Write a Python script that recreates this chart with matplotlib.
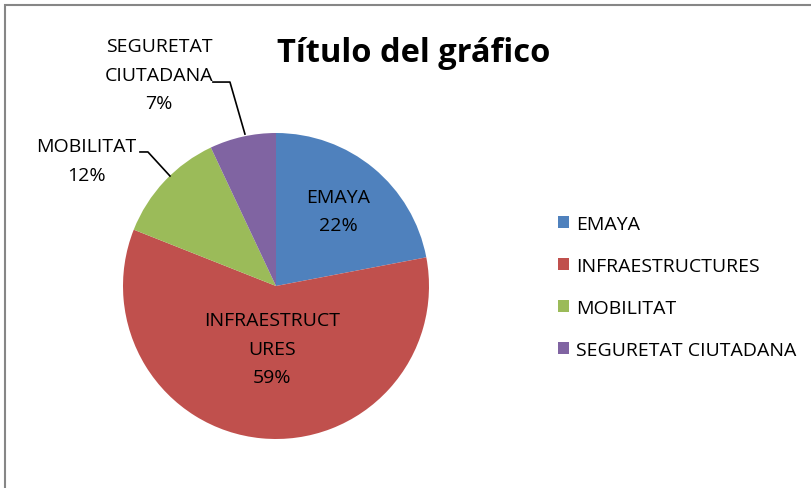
import matplotlib
matplotlib.use('Agg')
import matplotlib.pyplot as plt
from matplotlib.patches import Rectangle

# Data
categories = ['EMAYA', 'INFRAESTRUCTURES', 'MOBILITAT', 'SEGURETAT CIUTADANA']
values = [22, 59, 12, 7]
label_texts = ['EMAYA\n22%', 'INFRAESTRUCT\nURES\n59%', 'MOBILITAT\n12%', 'SEGURETAT\nCIUTADANA\n7%']
colors = ['#4F81BD', '#C0504D', '#9BBB59', '#8064A2']

plt.rcParams['font.family'] = ['Open Sans', 'DejaVu Sans']

W, H = 811, 489
fig = plt.figure(figsize=(W / 100, H / 100), dpi=100)

# chart frame (top and left edges visible)
fig.patches.append(Rectangle((5 / W, -0.1), 1.2, (H - 6) / H + 0.1, transform=fig.transFigure,
                             fill=False, edgecolor='#868686', linewidth=1.5))

cx, cy, r = 276, 287, 153
ax = fig.add_axes([(cx - r) / W, (H - cy - r) / H, 2 * r / W, 2 * r / H])
wedges, _ = ax.pie(values, colors=colors, startangle=90, counterclock=False, radius=1)
ax.set_xlim(-1, 1)
ax.set_ylim(-1, 1)
ax.set_aspect('equal')
ax.axis('off')

fs = 14
ls = 1.76
# inside labels
ax.text(0.405, 0.49, label_texts[0], ha='center', va='center', fontsize=fs, linespacing=ls)
ax.text(-0.026, -0.41, label_texts[1], ha='center', va='center', fontsize=fs, linespacing=ls)
# outside labels with leader lines
ax.text(-1.24, 0.82, label_texts[2], ha='center', va='center', fontsize=fs, linespacing=ls)
ax.plot([-0.889, -0.837, -0.693], [0.876, 0.876, 0.719], color='black', lw=1.2, clip_on=False)
ax.text(-0.765, 1.38, label_texts[3], ha='center', va='center', fontsize=fs, linespacing=ls)
ax.plot([-0.412, -0.301, -0.203], [1.333, 1.333, 0.993], color='black', lw=1.2, clip_on=False)

fig.text(414 / W, 1 - 62 / H, 'Título del gráfico', ha='center', va='baseline',
         fontsize=23.5, fontweight='bold')

# legend
leg = fig.legend(wedges, categories, loc='upper left', bbox_to_anchor=(540 / W, 1 - 198 / H),
                 frameon=False, fontsize=fs, labelspacing=1.24, handlelength=0.57,
                 handleheight=0.57, handletextpad=0.4)

fig.savefig('out.png', dpi=100)
